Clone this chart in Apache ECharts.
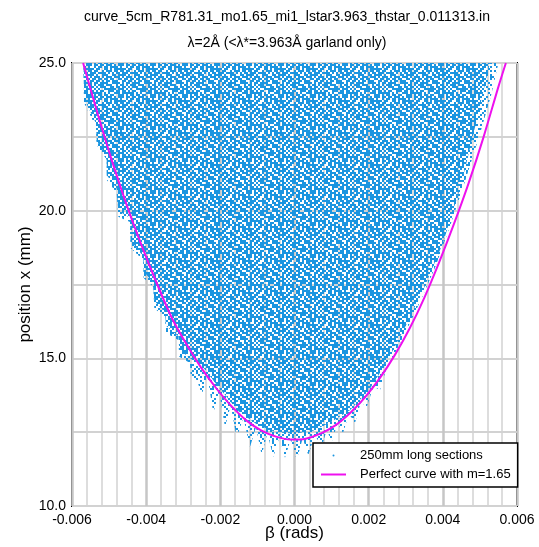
<!DOCTYPE html>
<html>
<head>
<meta charset="utf-8">
<script src="https://cdn.jsdelivr.net/npm/echarts@6/dist/echarts.min.js"></script>
<style>
  html, body { margin: 0; padding: 0; background: #fff; }
  #chart { width: 539px; height: 547px; }
</style>
</head>
<body>
<div id="chart"></div>
<script>
// Lower envelope of all 250mm-section hits (beta in rad, x in mm), left to right.
const outerBeta = [
  -0.00569, -0.005676, -0.005353, -0.005334, -0.005064, -0.00506, -0.004795, -0.004751,
  -0.004436, -0.004422, -0.004077, -0.004069, -0.003808, -0.003781, -0.003492, -0.003465,
  -0.003134, -0.003107, -0.002818, -0.002799, -0.002629,
  -0.002502, -0.00235, -0.00219, -0.00203, -0.001874, -0.00172, -0.001559, -0.00138,
  -0.0012, -0.00104, -0.000885, -0.00073, -0.000572, -0.00041, -0.000256, -0.0001,
  0.00006, 0.00022, 0.000372, 0.00055, 0.000734, 0.00087, 0.001003, 0.00116,
  0.001308, 0.00147, 0.001631, 0.00179, 0.001947, 0.00213, 0.002306, 0.0025,
  0.0027, 0.0030, 0.0034, 0.0038, 0.0042, 0.0046, 0.0050, 0.0053, 0.0055
];
const outerX = [
  25.0, 23.65, 22.83, 22.22, 21.72, 21.04, 20.60, 19.79,
  19.62, 18.74, 18.33, 17.72, 17.42, 16.70, 16.40, 15.86,
  15.62, 15.05, 14.84, 14.33, 14.27,
  13.76, 14.42, 13.15, 13.87, 12.67, 13.41, 12.30, 13.00,
  12.00, 12.67, 11.73, 12.46, 11.66, 12.32, 11.63, 12.27,
  11.56, 12.29, 11.73, 12.40, 12.00, 12.58, 12.17, 12.80,
  12.47, 13.12, 12.81, 13.53, 13.35, 14.05, 13.93, 14.75,
  15.15, 15.90, 16.95, 18.10, 19.50, 21.00, 22.60, 23.90, 25.0
];

// Edge of the densely populated core of the hit distribution.
const coreBeta = [
  -0.00569, -0.005676, -0.005353, -0.005334, -0.005064, -0.00506, -0.004795, -0.004751,
  -0.004436, -0.004422, -0.004077, -0.004069, -0.003808, -0.003781, -0.003492, -0.003465,
  -0.003134, -0.003107, -0.002818, -0.0025, -0.0020, -0.0015, -0.0010, -0.0005,
  0.0, 0.0005, 0.0010, 0.0015, 0.0020, 0.0025, 0.0030, 0.0035,
  0.0040, 0.0045, 0.0049, 0.00527
];
const coreX = [
  25.0, 23.8, 22.95, 22.35, 21.85, 21.2, 20.75, 20.0,
  19.75, 19.0, 18.45, 17.95, 17.55, 16.95, 16.55, 16.1,
  15.75, 15.3, 15.0, 14.75, 13.95, 13.20, 12.75, 12.50,
  12.45, 12.55, 12.85, 13.25, 13.90, 14.90, 16.10, 17.40,
  18.90, 20.90, 23.00, 25.0
];

// Ideal guide curve, m = 1.65.
const curveBeta = [
  -0.0057, -0.0053, -0.0049, -0.0045, -0.0041, -0.0037, -0.0033, -0.0029, -0.0025, -0.0021,
  -0.0017, -0.0013, -0.0009, -0.0005, -0.0001, 0.0003, 0.0007, 0.0011, 0.0015, 0.0019,
  0.0023, 0.0027, 0.0031, 0.0035, 0.0039, 0.0043, 0.0047, 0.0051, 0.0055, 0.0057
];
const curveX = [
  25.0, 23.25, 21.6, 20.1, 18.75, 17.5, 16.35, 15.45, 14.65, 13.97,
  13.38, 12.9, 12.56, 12.35, 12.25, 12.28, 12.45, 12.73, 13.15, 13.68,
  14.33, 15.1, 16.0, 17.05, 18.25, 19.55, 20.95, 22.5, 24.2, 25.0
];

const xTicks = { min: -0.006, max: 0.006, step: 0.002 };
const yTicks = { min: 10, max: 25, step: 5 };

const seriesNames = ['250mm long sections', 'Perfect curve with m=1.65'];
const titleLines = [
  'curve_5cm_R781.31_mo1.65_mi1_lstar3.963_thstar_0.011313.in',
  'λ=2Å (<λ*=3.963Å garland only)'
];

const DOT = '#1b95e0';
const MAGENTA = '#ee10ee';
const GRID = '#d2d2d2';
const FONT = 'Liberation Sans, Arial, Helvetica, sans-serif';

// Speckle texture (2px cells): '#' dots in both layers, '+' only in the dense core layer.
const speckle = [
  '#.+#.++#.+.##+.#',
  '.+#.+#.+#+#.+..+',
  '+#..#+.+.##+#+#.',
  '#..+.#+#.++.+#.+',
  '.#+#+.+.#.#+.##+',
  '+..#+#..+#.+#++.',
  '#+.+.##+.#++.#.#',
  '.+#.+#.#+..#+.+#',
  '+#.#.++.#+#..+#.',
  '#.#+#+..#++#.#.+',
  '.+#+.#+#..+.#+.#',
  '#.+#+..+#.#+.+#.',
  '.#..#+#+#+.#+#.+',
  '+.#+..#+#.++.#+.',
  '#++.#.+..#+#.##+',
  '.#+.+#.#+..+#+.+'
];
const CELL = 2;
function makeTile(marks) {
  const n = speckle.length;
  const c = document.createElement('canvas');
  c.width = n * CELL; c.height = n * CELL;
  const ctx = c.getContext('2d');
  ctx.fillStyle = DOT;
  speckle.forEach((row, y) => {
    for (let x = 0; x < n; x++) {
      if (marks.indexOf(row[x] || '.') >= 0) ctx.fillRect(x * CELL, y * CELL, CELL, CELL);
    }
  });
  return c;
}
const sparseTile = makeTile('#');
const denseTile = makeTile('#+');

const zip = (a, b) => a.map((v, i) => [v, b[i]]);

const chart = echarts.init(document.getElementById('chart'), null, { renderer: 'canvas' });
chart.setOption({
  animation: false,
  backgroundColor: '#fff',
  textStyle: { fontFamily: FONT },
  title: {
    text: titleLines.join('\n'),
    left: 287, top: 4, padding: 0,
    textAlign: 'center',
    textStyle: { fontFamily: FONT, fontSize: 14, fontWeight: 'normal', color: '#000', lineHeight: 26 }
  },
  grid: {
    left: 72, right: 22, top: 63, bottom: 41,
    outerBoundsMode: 'none',
    containLabel: false,
    show: true, borderColor: '#000', borderWidth: 2, backgroundColor: 'transparent'
  },
  legend: {
    orient: 'vertical',
    left: 313, top: 443,
    padding: [5, 7, 5, 8],
    itemGap: 4,
    itemWidth: 25, itemHeight: 2,
    backgroundColor: '#fff',
    borderColor: '#000', borderWidth: 1.5, borderRadius: 0,
    selectedMode: false,
    textStyle: { fontFamily: FONT, fontSize: 13, color: '#000', lineHeight: 15, padding: [0, 0, 0, 9] },
    data: [
      { name: seriesNames[0], icon: 'circle', itemStyle: { color: DOT } },
      { name: seriesNames[1], icon: 'rect', itemStyle: { color: MAGENTA } }
    ]
  },
  xAxis: {
    type: 'value',
    min: xTicks.min, max: xTicks.max, interval: xTicks.step,
    name: 'β (rads)', nameLocation: 'middle', nameGap: 19, nameMoveOverlap: false,
    nameTextStyle: { fontFamily: FONT, fontSize: 17, color: '#000' },
    axisLine: { show: false },
    axisTick: { show: false },
    axisLabel: { color: '#000', fontSize: 14, fontFamily: FONT, margin: 7, formatter: v => v.toFixed(3) },
    splitLine: { show: true, lineStyle: { color: '#c6c6c6', width: 2.5 } },
    minorTick: { show: false, splitNumber: 5 },
    minorSplitLine: { show: true, lineStyle: { color: GRID, width: 1.5 } }
  },
  yAxis: {
    type: 'value',
    min: yTicks.min, max: yTicks.max, interval: yTicks.step,
    name: 'position x (mm)', nameLocation: 'middle', nameGap: 38, nameMoveOverlap: false,
    nameTextStyle: { fontFamily: FONT, fontSize: 17, color: '#000' },
    axisLine: { show: false },
    axisTick: { show: false },
    axisLabel: { color: '#000', fontSize: 14, fontFamily: FONT, margin: 6, formatter: v => v.toFixed(1) },
    splitLine: { show: true, lineStyle: { color: GRID, width: 2 } },
    minorTick: { show: false, splitNumber: 2 },
    minorSplitLine: { show: true, lineStyle: { color: GRID, width: 2 } }
  },
  series: [
    {
      name: seriesNames[0],
      type: 'line',
      data: zip(outerBeta, outerX),
      symbol: 'none',
      silent: true,
      lineStyle: { opacity: 0 },
      areaStyle: { origin: 'end', opacity: 1, color: { image: sparseTile, repeat: 'repeat' } },
      z: 2
    },
    {
      name: 'section hits core',
      type: 'line',
      data: zip(coreBeta, coreX),
      symbol: 'none',
      silent: true,
      lineStyle: { opacity: 0 },
      areaStyle: { origin: 'end', opacity: 1, color: { image: denseTile, repeat: 'repeat' } },
      z: 3
    },
    {
      name: seriesNames[1],
      type: 'line',
      data: zip(curveBeta, curveX),
      symbol: 'none',
      smooth: 0.3,
      silent: true,
      color: MAGENTA,
      lineStyle: { color: MAGENTA, width: 2 },
      z: 5
    }
  ]
});
</script>
</body>
</html>
